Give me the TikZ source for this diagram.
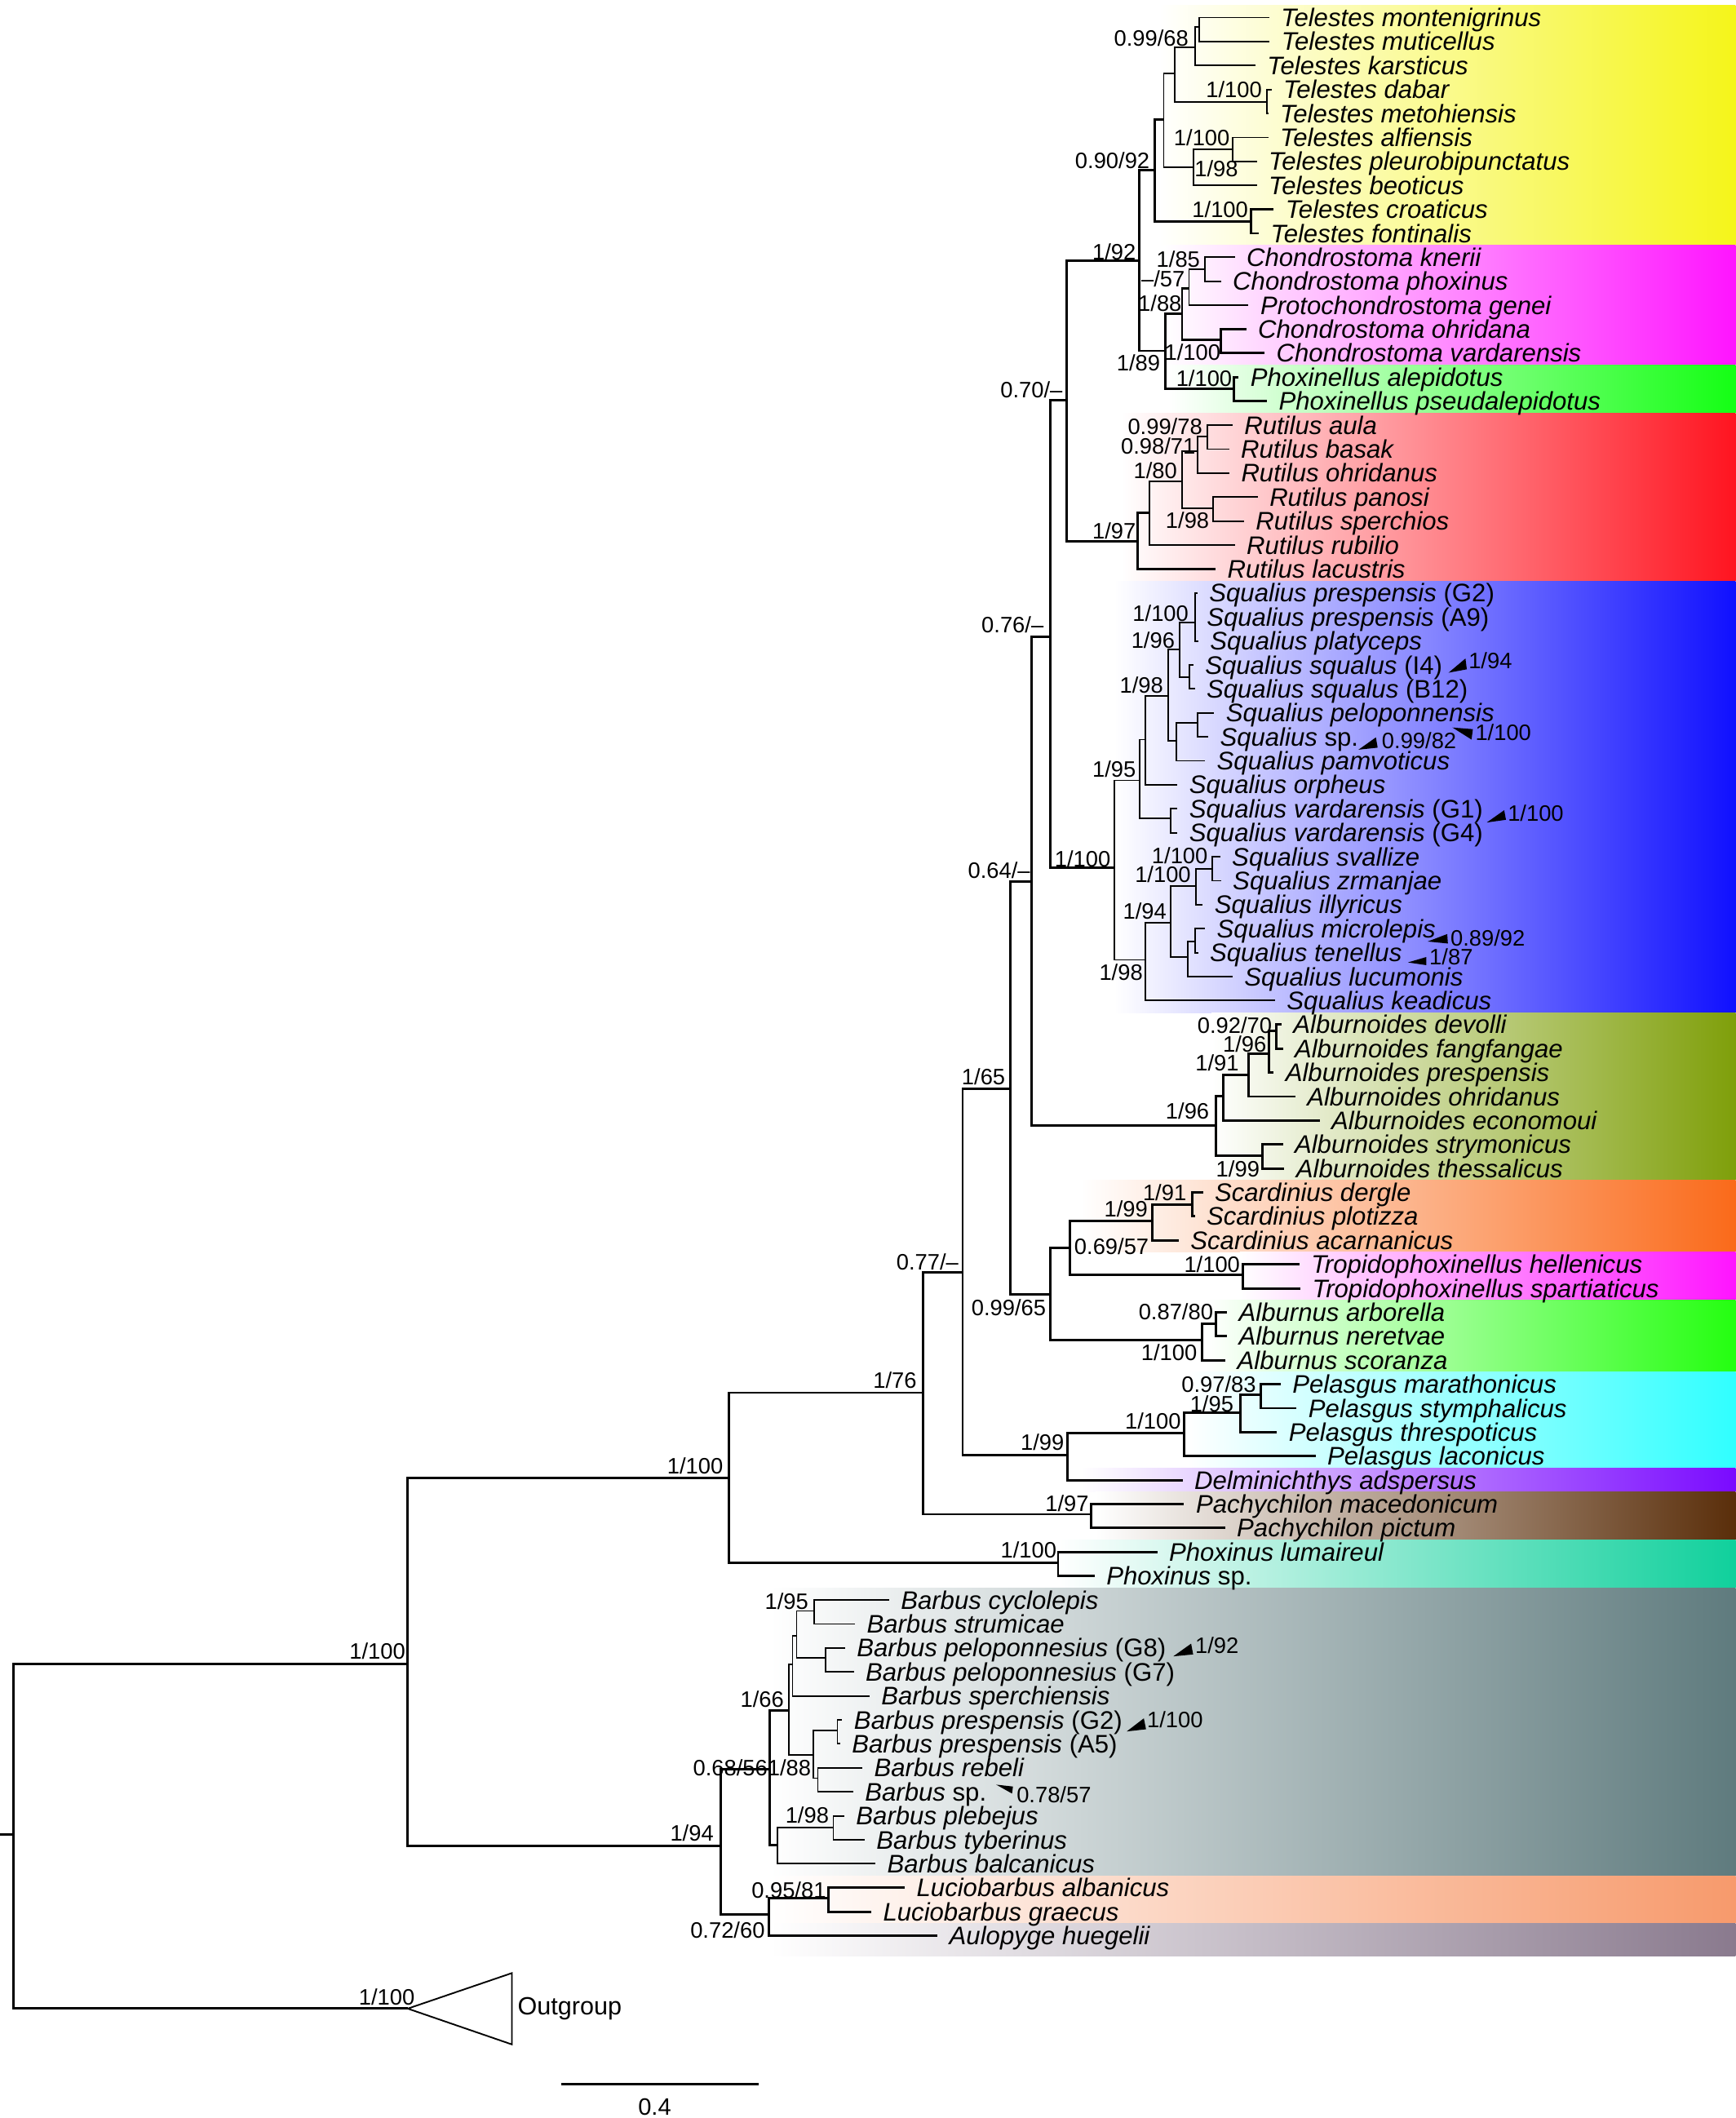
\documentclass[tikz,border=0pt]{standalone}
\usepackage{fontspec}
\setmainfont{Liberation Sans}
\definecolor{cTel}{HTML}{F5F51A}
\definecolor{cCho}{HTML}{FF14FF}
\definecolor{cPhl}{HTML}{14FF14}
\definecolor{cRut}{HTML}{FF1420}
\definecolor{cSqu}{HTML}{1010FF}
\definecolor{cAbd}{HTML}{7F9F0A}
\definecolor{cSca}{HTML}{FA6A1A}
\definecolor{cTro}{HTML}{FF14FF}
\definecolor{cAlb}{HTML}{24FF10}
\definecolor{cPel}{HTML}{30FFFF}
\definecolor{cDel}{HTML}{7A0AFF}
\definecolor{cPac}{HTML}{5A2E0A}
\definecolor{cPho}{HTML}{10D09C}
\definecolor{cBar}{HTML}{5F7B7E}
\definecolor{cLuc}{HTML}{F79A6C}
\definecolor{cAul}{HTML}{8A7A8E}

\begin{document}
\begin{tikzpicture}[x=0.02cm, y=-0.02cm,
  br/.style={line width=1pt},
  tb/.style={line width=0.65pt},
  leaf/.style={anchor=west, inner xsep=5pt, inner ysep=0pt, outer sep=0pt,
    text height=7.6pt, text depth=0pt, font=\fontsize{10.7}{12}\selectfont\itshape},
  supp/.style={anchor=east, inner sep=0pt, font=\fontsize{9.4}{10}\selectfont},
  arrlab/.style={anchor=west, inner sep=0pt, font=\fontsize{9.4}{10}\selectfont}]

\useasboundingbox (0,0) rectangle (1285,1568);

% coloured clade bands
\foreach \xs/\ya/\yb/\cl in {858/4.1/181.6/cTel, 862/181.6/270.4/cCho,
  865/270.4/305.9/cPhl, 830/305.9/430.1/cRut, 825/430.1/749.6/cSqu,
  897/749.6/873.9/cAbd, 800/873.9/927.1/cSca, 918/927.1/962.6/cTro,
  893/962.6/1015.9/cAlb, 879/1015.9/1086.9/cPel, 800/1086.9/1104.6/cDel,
  811/1104.6/1140.1/cPac, 783/1140.1/1175.6/cPho, 570/1175.6/1388.6/cBar,
  570/1388.6/1424.1/cLuc, 570/1424.1/1448/cAul}
  \shade[left color=white, right color=\cl] (\xs,\ya) rectangle (1285,\yb);

% internal nodes
\coordinate (base) at (0,1358.2);
\coordinate (R) at (10,1358.2);
\coordinate (og) at (301.9,1487);
\coordinate (ogt) at (379,1460.7);
\coordinate (ogb) at (379,1513.5);
\coordinate (n1) at (301.9,1232);
\coordinate (n2) at (539.8,1094.4);
\coordinate (n3) at (683.5,1031);
\coordinate (n4) at (712.7,942);
\coordinate (n5) at (747.8,806);
\coordinate (n6) at (764,652.4);
\coordinate (n7) at (777.4,471.6);
\coordinate (n8) at (789.7,296.5);
\coordinate (n9) at (843.7,193);
\coordinate (n99) at (777.4,958.1);
\coordinate (Te) at (854.9,125.8);
\coordinate (T1) at (861.6,88.6);
\coordinate (T2) at (869.5,54.4);
\coordinate (T68) at (884.7,35.2);
\coordinate (Tmm) at (888,20.1);
\coordinate (Tdm) at (938,75.5);
\coordinate (Tab) at (883.7,123.8);
\coordinate (Tap) at (912.5,110.3);
\coordinate (Tcf) at (926,164.1);
\coordinate (C89) at (862.7,259.7);
\coordinate (C88) at (875.2,232.5);
\coordinate (C57) at (880.3,213.4);
\coordinate (C85) at (892.2,199.3);
\coordinate (Cov) at (904,251.6);
\coordinate (Phl) at (913.5,287.9);
\coordinate (Ru) at (842.3,400.5);
\coordinate (R1) at (850.8,379.4);
\coordinate (R80) at (875.2,356.3);
\coordinate (R71) at (886.4,334.1);
\coordinate (R78) at (893.9,323);
\coordinate (R98) at (898,376.4);
\coordinate (Sq) at (824.9,642.5);
\coordinate (S95) at (843.7,577.7);
\coordinate (S1) at (848.1,547.5);
\coordinate (S98) at (865,515.3);
\coordinate (S96) at (873.5,481);
\coordinate (S100) at (884.7,461);
\coordinate (Ssq) at (880.6,501.2);
\coordinate (Spel) at (871.2,548.5);
\coordinate (Spp) at (886.4,535.4);
\coordinate (Svar) at (866.7,605.9);
\coordinate (S98b) at (848,710.6);
\coordinate (S94) at (866.7,683);
\coordinate (S100b) at (885.4,656.2);
\coordinate (S100c) at (897.3,643.2);
\coordinate (Sml) at (879.6,708.6);
\coordinate (Smt) at (884.7,696.9);
\coordinate (Abd) at (900,833.4);
\coordinate (A1) at (905.7,811.2);
\coordinate (A91) at (924.4,796);
\coordinate (A96) at (939.7,780);
\coordinate (A70) at (944.8,763.3);
\coordinate (A99) at (934.6,855.5);
\coordinate (Sc69) at (792,924);
\coordinate (Sc99) at (852.9,903.8);
\coordinate (Sc91) at (882.7,891.7);
\coordinate (Trop) at (920.4,944);
\coordinate (Alb) at (889.8,992);
\coordinate (A87) at (900.5,980);
\coordinate (P99) at (790.5,1077);
\coordinate (Pel) at (876.7,1060.8);
\coordinate (P95) at (918.4,1045.7);
\coordinate (P97) at (933.5,1032.6);
\coordinate (Pachy) at (808,1121);
\coordinate (Phox) at (783.4,1156.7);
\coordinate (nB) at (533.8,1366.6);
\coordinate (B56) at (569.7,1310);
\coordinate (B66) at (584.1,1266.1);
\coordinate (Bc) at (586.8,1231.9);
\coordinate (Bd) at (589.8,1210.8);
\coordinate (B95) at (602.9,1192.6);
\coordinate (Bpel) at (611.5,1227.5);
\coordinate (B88) at (602.3,1299.3);
\coordinate (Bpr) at (620,1281.2);
\coordinate (Brs) at (605.5,1316.4);
\coordinate (Bb) at (575.4,1365.8);
\coordinate (B98) at (617,1352.7);
\coordinate (B60) at (569.3,1417.5);
\coordinate (B81) at (613.6,1405.4);

% leaves
\node[leaf] (mon) at (939.7,13) {Telestes montenigrinus};
\node[leaf] (mut) at (940,30.75) {Telestes muticellus};
\node[leaf] (kar) at (929.5,48.5) {Telestes karsticus};
\node[leaf] (dab) at (941.4,66.25) {Telestes dabar};
\node[leaf] (met) at (939,84) {Telestes metohiensis};
\node[leaf] (alf) at (939,101.75) {Telestes alfiensis};
\node[leaf] (ple) at (930.5,119.5) {Telestes pleurobipunctatus};
\node[leaf] (beo) at (930.5,137.25) {Telestes beoticus};
\node[leaf] (cro) at (943,155) {Telestes croaticus};
\node[leaf] (fon) at (932,172.75) {Telestes fontinalis};
\node[leaf] (kne) at (914.2,190.5) {Chondrostoma knerii};
\node[leaf] (pho) at (904,208.25) {Chondrostoma phoxinus};
\node[leaf] (gen) at (924.4,226) {Protochondrostoma genei};
\node[leaf] (ohr) at (922.7,243.75) {Chondrostoma ohridana};
\node[leaf] (var) at (936.3,261.5) {Chondrostoma vardarensis};
\node[leaf] (ale) at (917,279.25) {Phoxinellus alepidotus};
\node[leaf] (pse) at (938,297) {Phoxinellus pseudalepidotus};
\node[leaf] (aul) at (912.5,314.75) {Rutilus aula};
\node[leaf] (bas) at (910,332.5) {Rutilus basak};
\node[leaf] (roh) at (910.2,350.25) {Rutilus ohridanus};
\node[leaf] (pan) at (931.2,368) {Rutilus panosi};
\node[leaf] (spe) at (921,385.75) {Rutilus sperchios};
\node[leaf] (rub) at (914.2,403.5) {Rutilus rubilio};
\node[leaf] (lac) at (900,421.25) {Rutilus lacustris};
\node[leaf] (sg2) at (886.6,439) {Squalius prespensis {\upshape(G2)}};
\node[leaf] (sa9) at (884.7,456.75) {Squalius prespensis {\upshape(A9)}};
\node[leaf] (spl) at (887.2,474.5) {Squalius platyceps};
\node[leaf] (si4) at (883.5,492.25) {Squalius squalus {\upshape(I4)}};
\node[leaf] (sb12) at (884.6,510) {Squalius squalus {\upshape(B12)}};
\node[leaf] (spe2) at (899,527.75) {Squalius peloponnensis};
\node[leaf] (ssp) at (894.5,545.5) {Squalius {\upshape sp.}};
\node[leaf] (spa) at (892.2,563.25) {Squalius pamvoticus};
\node[leaf] (sor) at (871.8,581) {Squalius orpheus};
\node[leaf] (sg1) at (871.8,598.75) {Squalius vardarensis {\upshape(G1)}};
\node[leaf] (sg4) at (871.8,616.5) {Squalius vardarensis {\upshape(G4)}};
\node[leaf] (ssv) at (903.4,634.25) {Squalius svallize};
\node[leaf] (szr) at (904,652) {Squalius zrmanjae};
\node[leaf] (sil) at (890.5,669.75) {Squalius illyricus};
\node[leaf] (smi) at (892.2,687.5) {Squalius microlepis};
\node[leaf] (ste) at (887,705.25) {Squalius tenellus};
\node[leaf] (slu) at (912.5,723) {Squalius lucumonis};
\node[leaf] (ske) at (944,740.75) {Squalius keadicus};
\node[leaf] (ade) at (948.8,758.5) {Alburnoides devolli};
\node[leaf] (afa) at (949.8,776.25) {Alburnoides fangfangae};
\node[leaf] (apr) at (943,794) {Alburnoides prespensis};
\node[leaf] (aoh) at (959,811.75) {Alburnoides ohridanus};
\node[leaf] (aec) at (977,829.5) {Alburnoides economoui};
\node[leaf] (ast) at (949.8,847.25) {Alburnoides strymonicus};
\node[leaf] (ath) at (950.9,865) {Alburnoides thessalicus};
\node[leaf] (sde) at (890.6,882.75) {Scardinius dergle};
\node[leaf] (spz) at (884.6,900.5) {Scardinius plotizza};
\node[leaf] (sac) at (872.7,918.25) {Scardinius acarnanicus};
\node[leaf] (the) at (962,936) {Tropidophoxinellus hellenicus};
\node[leaf] (tsp) at (962.8,953.75) {Tropidophoxinellus spartiaticus};
\node[leaf] (aar) at (908.5,971.5) {Alburnus arborella};
\node[leaf] (ane) at (908.5,989.25) {Alburnus neretvae};
\node[leaf] (asc) at (907.3,1007) {Alburnus scoranza};
\node[leaf] (pma) at (948.2,1024.75) {Pelasgus marathonicus};
\node[leaf] (pst) at (960,1042.5) {Pelasgus stymphalicus};
\node[leaf] (pth) at (945.4,1060.25) {Pelasgus threspoticus};
\node[leaf] (pla) at (974,1078) {Pelasgus laconicus};
\node[leaf] (dad) at (875.5,1095.75) {Delminichthys adspersus};
\node[leaf] (pmc) at (876.7,1113.5) {Pachychilon macedonicum};
\node[leaf] (ppi) at (907,1131.25) {Pachychilon pictum};
\node[leaf] (plu) at (856.8,1149) {Phoxinus lumaireul};
\node[leaf] (psp) at (810.4,1166.75) {Phoxinus {\upshape sp.}};
\node[leaf] (bcy) at (658.2,1184.5) {Barbus cyclolepis};
\node[leaf] (bst) at (633,1202.25) {Barbus strumicae};
\node[leaf] (bg8) at (625.6,1220) {Barbus peloponnesius {\upshape(G8)}};
\node[leaf] (bg7) at (632.1,1237.75) {Barbus peloponnesius {\upshape(G7)}};
\node[leaf] (bsc) at (643.7,1255.5) {Barbus sperchiensis};
\node[leaf] (bg2) at (623.6,1273.25) {Barbus prespensis {\upshape(G2)}};
\node[leaf] (ba5) at (622,1291) {Barbus prespensis {\upshape(A5)}};
\node[leaf] (bre) at (638.5,1308.75) {Barbus rebeli};
\node[leaf] (bsp) at (631.7,1326.5) {Barbus {\upshape sp.}};
\node[leaf] (bpl) at (625.1,1344.25) {Barbus plebejus};
\node[leaf] (bty) at (640.2,1362) {Barbus tyberinus};
\node[leaf] (bba) at (648.2,1379.75) {Barbus balcanicus};
\node[leaf] (lal) at (669.9,1397.5) {Luciobarbus albanicus};
\node[leaf] (lgr) at (645.1,1415.25) {Luciobarbus graecus};
\node[leaf] (ahu) at (694.1,1433) {Aulopyge huegelii};

% branches
\draw[br] (base) -- (R);
\foreach \p/\c in {R/n1, R/og, n1/n2, n1/nB, n2/n3, n2/Phox, n3/n4, n3/Pachy,
  n4/n5, n4/P99, n5/n6, n5/n99, n6/n7, n6/Abd, n7/n8, n7/Sq, n8/n9, n8/Ru,
  n9/Te, n9/C89, Te/T1, Te/Tcf, Tcf/cro, Tcf/fon, C89/C88, C89/Phl,
  C88/C57, C88/Cov, Cov/ohr, Cov/var, Phl/ale, Phl/pse, Ru/R1, Ru/lac,
  Abd/A1, Abd/A99, A1/A91, A1/aec, A91/A96, A91/aoh, A96/A70, A96/apr,
  A70/ade, A70/afa, A99/ast, A99/ath, n99/Sc69, n99/Alb, Sc69/Sc99, Sc69/Trop,
  Sc99/Sc91, Sc99/sac, Sc91/sde, Sc91/spz, Trop/the, Trop/tsp, Alb/A87, Alb/asc,
  A87/aar, A87/ane, P99/Pel, P99/dad, Pel/P95, Pel/pla, P95/P97, P95/pth,
  P97/pma, P97/pst, Pachy/pmc, Pachy/ppi, Phox/plu, Phox/psp,
  nB/B56, nB/B60, B56/B66, B56/Bb, B60/B81, B60/ahu, B81/lal, B81/lgr}
  \draw[br] (\p) |- (\c);
\foreach \p/\c in {T1/T2, T1/Tab, T2/T68, T2/Tdm, T68/Tmm, T68/kar, Tmm/mon, Tmm/mut,
  Tdm/dab, Tdm/met, Tab/Tap, Tab/beo, Tap/alf, Tap/ple, C57/C85, C57/gen,
  C85/kne, C85/pho, R1/R80, R1/rub, R80/R71, R80/R98, R71/R78, R71/roh,
  R78/aul, R78/bas, R98/pan, R98/spe,
  Sq/S95, Sq/S98b, S95/S1, S95/Svar, S1/S98, S1/sor, S98/S96, S98/Spel,
  S96/S100, S96/Ssq, S100/sg2, S100/sa9, S100/spl, Ssq/si4, Ssq/sb12,
  Spel/Spp, Spel/spa, Spp/spe2, Spp/ssp, Svar/sg1, Svar/sg4,
  S98b/S94, S98b/ske, S94/S100b, S94/Sml, S100b/S100c, S100b/sil,
  S100c/ssv, S100c/szr, Sml/Smt, Sml/slu, Smt/smi, Smt/ste,
  B66/Bc, B66/B88, Bc/Bd, Bc/bsc, Bd/B95, Bd/Bpel, B95/bcy, B95/bst,
  Bpel/bg8, Bpel/bg7, B88/Bpr, B88/Brs, Bpr/bg2, Bpr/ba5, Brs/bre, Brs/bsp,
  Bb/B98, Bb/bba, B98/bpl, B98/bty}
  \draw[tb] (\p) |- (\c);

% outgroup
\draw[tb] (og) -- (ogt) -- (ogb) -- cycle;
\node[anchor=west, inner sep=0pt, font=\fontsize{10.5}{12}\selectfont] (outg) at (383,1487) {Outgroup};

% support values
\node[supp] (l1) at (300.4,1222.3) {1/100};
\node[supp] (l2) at (307.4,1478.5) {1/100};
\node[supp] (l3) at (535.7,1085.2) {1/100};
\node[supp] (l4) at (528.7,1357.3) {1/94};
\node[supp] (l5) at (679,1021.9) {1/76};
\node[supp] (l6) at (710,934.5) {0.77/--};
\node[supp] (l7) at (744.6,796.9) {1/65};
\node[supp] (l8) at (763,644.3) {0.64/--};
\node[supp] (l9) at (773,462.6) {0.76/--};
\node[supp] (l10) at (787,288.5) {0.70/--};
\node[supp] (l11) at (841.3,186.2) {1/92};
\node[supp] (l12) at (851.5,118.8) {0.90/92};
\node[supp] (l13) at (880.3,28.2) {0.99/68};
\node[supp] (l14) at (934.6,66.4) {1/100};
\node[supp] (l15) at (910.8,101.7) {1/100};
\node[supp] (l16) at (917,124.8) {1/98};
\node[supp] (l17) at (924.4,155) {1/100};
\node[supp] (l18) at (888.8,192.2) {1/85};
\node[supp] (l19) at (877.6,206.3) {--/57};
\node[supp] (l20) at (875.2,224.5) {1/88};
\node[supp] (l21) at (904,260.7) {1/100};
\node[supp] (l22) at (859.3,268.7) {1/89};
\node[supp] (l23) at (912.5,279.8) {1/100};
\node[supp] (l24) at (890.5,316) {0.99/78};
\node[supp] (l25) at (885.4,330) {0.98/71};
\node[supp] (l26) at (871.8,348.6) {1/80};
\node[supp] (l27) at (895.6,385.4) {1/98};
\node[supp] (l28) at (841.3,393) {1/97};
\node[supp] (l29) at (880.3,454) {1/100};
\node[supp] (l30) at (870.1,474) {1/96};
\node[supp] (l31) at (861.6,507.2) {1/98};
\node[supp] (l32) at (841.3,569.6) {1/95};
\node[supp] (l33) at (822.6,636.1) {1/100};
\node[supp] (l34) at (894.5,633.2) {1/100};
\node[supp] (l35) at (882,647.6) {1/100};
\node[supp] (l36) at (864,674.8) {1/94};
\node[supp] (l37) at (846.4,719.6) {1/98};
\node[supp] (l38) at (942,759) {0.92/70};
\node[supp] (l39) at (938,773) {1/96};
\node[supp] (l40) at (917.6,787) {1/91};
\node[supp] (l41) at (895.6,822.3) {1/96};
\node[supp] (l42) at (932.9,865.6) {1/99};
\node[supp] (l43) at (878.7,882.6) {1/91};
\node[supp] (l44) at (850.1,894.7) {1/99};
\node[supp] (l45) at (850.9,922.9) {0.69/57};
\node[supp] (l46) at (918.4,936) {1/100};
\node[supp] (l47) at (774.7,968.2) {0.99/65};
\node[supp] (l48) at (898.5,971.2) {0.87/80};
\node[supp] (l49) at (886.6,1001.4) {1/100};
\node[supp] (l50) at (930.3,1024.8) {0.97/83};
\node[supp] (l51) at (913.6,1039.2) {1/95};
\node[supp] (l52) at (874.7,1051.7) {1/100};
\node[supp] (l53) at (788.2,1067.8) {1/99};
\node[supp] (l54) at (806.4,1113) {1/97};
\node[supp] (l55) at (782.6,1147.4) {1/100};
\node[supp] (l56) at (598.8,1185.6) {1/95};
\node[supp] (l57) at (580.7,1258) {1/66};
\node[supp] (l58) at (568.6,1308.4) {0.68/56};
\node[supp] (l59) at (600.8,1308.4) {1/88};
\node[supp] (l60) at (614,1343.6) {1/98};
\node[supp] (l61) at (611.9,1399) {0.95/81};
\node[supp] (l62) at (566.6,1429) {0.72/60};

% pointers to short branches
\fill (1072.5,498) -- (1085,487.5) -- (1086,495.5) -- cycle;
\node[arrlab] (m1) at (1087,489) {1/94};
\fill (1005.8,555) -- (1018.7,545.9) -- (1020,553.5) -- cycle;
\node[arrlab] (m2) at (1022.8,548.5) {0.99/82};
\fill (1075.4,538.6) -- (1090.5,539.8) -- (1089.5,547.5) -- cycle;
\node[arrlab] (m3) at (1092,542.4) {1/100};
\fill (1100.8,608.9) -- (1113.7,599.8) -- (1115,606.9) -- cycle;
\node[arrlab] (m4) at (1116,601.8) {1/100};
\fill (1057,697) -- (1071.5,691.5) -- (1072,698.5) -- cycle;
\node[arrlab] (m5) at (1073.6,694.6) {0.89/92};
\fill (1042.4,712.5) -- (1056,708.5) -- (1056,714.5) -- cycle;
\node[arrlab] (m6) at (1058,708.4) {1/87};
\fill (868.7,1226.2) -- (881.9,1216.8) -- (883.4,1224.8) -- cycle;
\node[arrlab] (m7) at (884.6,1217.8) {1/92};
\fill (834.2,1281.8) -- (846.9,1272.1) -- (848.5,1280.2) -- cycle;
\node[arrlab] (m8) at (848.9,1273) {1/100};
\fill (737.6,1321.2) -- (750,1322.6) -- (749.3,1327.8) -- cycle;
\node[arrlab] (m9) at (752.4,1328.5) {0.78/57};

% scale bar
\coordinate (sb1) at (415.6,1543);
\coordinate (sb2) at (561.8,1543);
\draw[br] (sb1) -- (sb2);
\node[inner sep=0pt, font=\fontsize{10}{12}\selectfont] (sbl) at (484.7,1560) {0.4};

\end{tikzpicture}
\end{document}
